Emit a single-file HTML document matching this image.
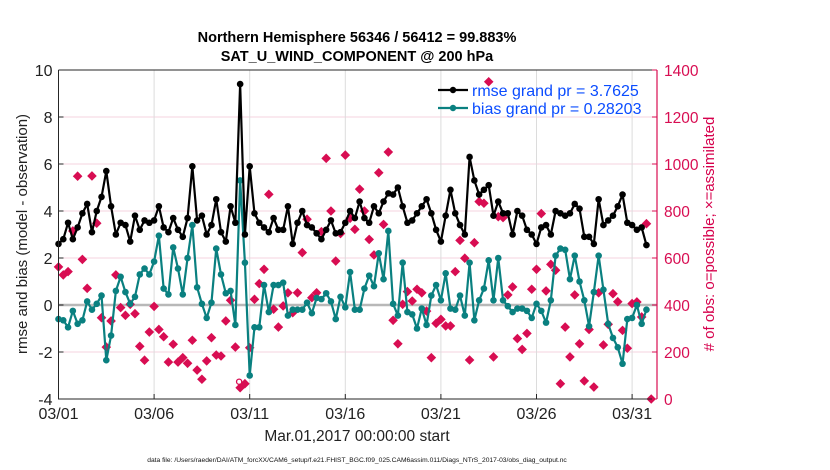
<!DOCTYPE html>
<html><head><meta charset="utf-8">
<style>
html,body{margin:0;padding:0;background:#fff;}
svg{display:block;font-family:"Liberation Sans",Arial,sans-serif;}
</style></head>
<body>
<svg id="chart" width="830" height="470" viewBox="0 0 830 470">
  <text x="357" y="42" text-anchor="middle" font-size="14.5" font-weight="bold" fill="#000">Northern Hemisphere 56346 / 56412 = 99.883%</text>
  <text x="357" y="61" text-anchor="middle" font-size="14.5" font-weight="bold" fill="#000">SAT_U_WIND_COMPONENT @ 200 hPa</text>
  <g id="grid"></g>
  <g id="marks"></g>
  <g id="axes"></g>
  <text transform="translate(27,234) rotate(-90)" text-anchor="middle" font-size="15" fill="#222">rmse and bias (model - observation)</text>
  <text transform="translate(714,234) rotate(-90)" text-anchor="middle" font-size="15" fill="#d6004c"># of obs: o=possible; ×=assimilated</text>
  <text x="357" y="441" text-anchor="middle" font-size="15.5" fill="#222">Mar.01,2017 00:00:00 start</text>
  <text x="357" y="462" text-anchor="middle" font-size="6.7" fill="#111">data file: /Users/raeder/DAI/ATM_forcXX/CAM6_setup/f.e21.FHIST_BGC.f09_025.CAM6assim.011/Diags_NTrS_2017-03/obs_diag_output.nc</text>
  <g>
    <line x1="438" y1="90" x2="468" y2="90" stroke="#000" stroke-width="2.2"/>
    <circle cx="453" cy="90" r="3.2" fill="#000"/>
    <text x="472" y="96" font-size="16" fill="#0a4cff">rmse grand pr = 3.7625</text>
    <line x1="438" y1="108" x2="468" y2="108" stroke="#0a8080" stroke-width="2.2"/>
    <circle cx="453" cy="108" r="3.2" fill="#0a8080"/>
    <text x="472" y="114" font-size="16" fill="#0a4cff">bias grand pr = 0.28203</text>
  </g>
</svg>
<script>
const rmse = [2.6,2.8,3.5,2.8,3.3,3.9,4.3,3.1,4.0,4.6,5.7,4.2,3.0,3.5,3.4,2.7,3.8,3.2,3.6,3.5,3.6,4.2,3.3,3.1,3.7,3.2,2.9,3.7,5.9,3.6,3.8,3.0,
3.4,4.5,3.1,2.7,4.2,3.5,9.4,3.0,5.9,3.9,3.5,3.3,3.1,3.7,3.2,3.2,4.2,2.6,3.5,4.0,3.4,3.3,3.05,2.8,3.2,3.6,3.05,3.1,3.5,4.0,3.7,
4.4,3.7,3.5,4.2,3.9,4.4,4.75,4.7,5.0,4.2,3.5,3.6,3.9,4.2,4.5,3.9,3.2,2.7,3.8,4.9,3.9,3.4,3.0,6.3,5.3,4.7,4.9,5.1,3.8,4.4,3.9,
3.9,3.0,4.0,3.8,3.2,3.0,2.6,3.3,3.4,3.0,4.0,3.9,3.8,3.9,4.3,4.1,2.9,2.9,2.6,4.5,3.4,3.6,3.8,4.2,4.7,3.5,3.4,3.2,3.3,2.55];
const bias = [-0.6,-0.65,-0.95,-0.25,-0.8,-0.65,0.15,-0.2,0.05,0.4,-2.35,-1.3,0.6,1.2,0.55,0.05,0.35,1.3,1.55,1.3,1.85,2.95,0.7,0.45,2.45,1.55,0.45,2.0,3.4,0.75,0.05,-0.55,
0.1,2.4,1.3,0.5,0.6,-0.85,5.3,1.8,-3.0,-0.95,-0.95,0.85,-0.3,0.85,0.85,0.95,-0.45,-0.2,-0.2,-0.2,0.1,-0.35,0.3,0.25,0.5,0.15,-0.6,0.35,-0.1,1.4,-0.2,
-0.2,0.7,1.25,0.8,2.2,1.1,3.15,0.05,-0.45,1.8,-0.3,-0.4,-1.0,-0.15,-0.85,0.4,0.85,0.2,1.35,-0.15,-0.2,0.4,-0.45,1.8,-0.65,0.2,0.7,1.9,0.2,2.0,0.2,
-0.05,-0.3,-0.15,-0.15,-0.25,-0.55,0.05,-0.25,-0.75,0.2,2.1,2.4,2.35,1.1,2.1,1.0,0.2,-0.9,0.55,2.1,0.65,-0.8,-1.4,-1.8,-2.5,-0.6,-0.55,0.0,-0.8,-0.2];
const obsCount = [562,528,542,715,948,594,471,949,748,346,221,332,528,389,356,403,363,224,165,285,394,296,265,157,233,157,176,152,250,123,84,162,
261,187,183,332,420,221,48,65,218,424,491,552,871,382,306,396,452,367,452,623,765,431,452,712,1024,800,587,704,1038,769,722,
893,800,679,613,963,743,1051,335,235,403,457,417,467,452,374,176,322,339,311,311,542,675,599,166,665,840,833,1350,179,776,
772,443,477,257,211,279,467,552,789,460,573,548,65,306,179,443,235,77,296,51,452,230,318,448,414,292,216,406,413,349,746,0];
const possibleOnlyIdx = [38];
const leftTicks = [-4,-2,0,2,4,6,8,10];
const rightTicks = [0,200,400,600,800,1000,1200,1400];
const dateTicks = [0,5,10,15,20,25,30];
const dateLabels = ["03/01","03/06","03/11","03/16","03/21","03/26","03/31"];
const stepsPerDay = 4;

const NS="http://www.w3.org/2000/svg";
const X0=58.5, X1=657, Y0=70, Y1=399;
function xDay(d){return X0 + d*19.12;}
function xIdx(i){return xDay(i/stepsPerDay);}
function yL(v){return Y1 - (v+4)*(Y1-Y0)/14;}
function yR(v){return Y1 - v*(Y1-Y0)/1400;}
function mk(tag,attrs,parent){const e=document.createElementNS(NS,tag);for(const k in attrs)e.setAttribute(k,attrs[k]);parent.appendChild(e);return e;}
const grid=document.getElementById('grid'), marks=document.getElementById('marks'), axes=document.getElementById('axes');

rightTicks.forEach(t=>{ if(t>0&&t<1400){const l=mk('line',{x1:X0,x2:X1,y1:yR(t),y2:yR(t),stroke:'#f6d3df','stroke-width':1},grid);

}});
dateTicks.forEach(d=>{ if(d>0){const l=mk('line',{x1:xDay(d),x2:xDay(d),y1:Y0,y2:Y1,stroke:'#dcdcdc','stroke-width':1},grid);

}});
const zl=mk('line',{x1:X0,x2:X1,y1:yL(0),y2:yL(0),stroke:'#b8b8b8','stroke-width':2.5},grid);



obsCount.forEach((v,i)=>{const x=xIdx(i),y=yR(v);
 const p=mk('path',{d:`M${x},${y-4.8}L${x+4.8},${y}L${x},${y+4.8}L${x-4.8},${y}Z`,fill:'#d80d52'},marks);
 
 });
possibleOnlyIdx.forEach(i=>{const c=mk('circle',{cx:xIdx(i)-1,cy:yR(obsCount[i])-6,r:2.6,fill:'#fff',stroke:'#d80d52','stroke-width':1.3},marks);
 
 });

function series(vals,color,name){
 const pts=vals.map((v,i)=>xIdx(i).toFixed(2)+','+yL(v).toFixed(2)).join(' ');
 const pl=mk('polyline',{points:pts,fill:'none',stroke:color,'stroke-width':2.2,'stroke-linejoin':'round'},marks);
 
 
 vals.forEach((v,i)=>{const c=mk('circle',{cx:xIdx(i),cy:yL(v),r:3.3,fill:color},marks);
  
  });
}
series(bias,'#0a8080','bias');
series(rmse,'#000','rmse');

const la=mk('path',{d:`M${X0},${Y0}V${Y1}H${X1}`,fill:'none',stroke:'#262626','stroke-width':1},axes);


const ta=mk('line',{x1:X0,x2:X1,y1:Y0,y2:Y0,stroke:'#262626','stroke-width':1},axes);


const ra=mk('line',{x1:X1,x2:X1,y1:Y0,y2:Y1,stroke:'#d80d52','stroke-width':1.2},axes);


leftTicks.forEach(t=>{const y=yL(t);
 mk('line',{x1:X0,x2:X0+5,y1:y,y2:y,stroke:'#262626'},axes);
 const tx=mk('text',{x:X0-6,y:y+6,'text-anchor':'end','font-size':16,fill:'#222'},axes);tx.textContent=t;
 
 });
rightTicks.forEach(t=>{const y=yR(t);
 mk('line',{x1:X1-5,x2:X1,y1:y,y2:y,stroke:'#d80d52'},axes);
 const tx=mk('text',{x:X1+7,y:y+6,'font-size':15.5,fill:'#d80d52'},axes);tx.textContent=t;
 
 });
dateTicks.forEach((d,k)=>{const x=xDay(d);
 mk('line',{x1:x,x2:x,y1:Y1,y2:Y1-5,stroke:'#262626'},axes);
 const tx=mk('text',{x:x,y:Y1+20,'text-anchor':'middle','font-size':16,fill:'#222'},axes);tx.textContent=dateLabels[k];
 
 });
</script>
</body></html>
